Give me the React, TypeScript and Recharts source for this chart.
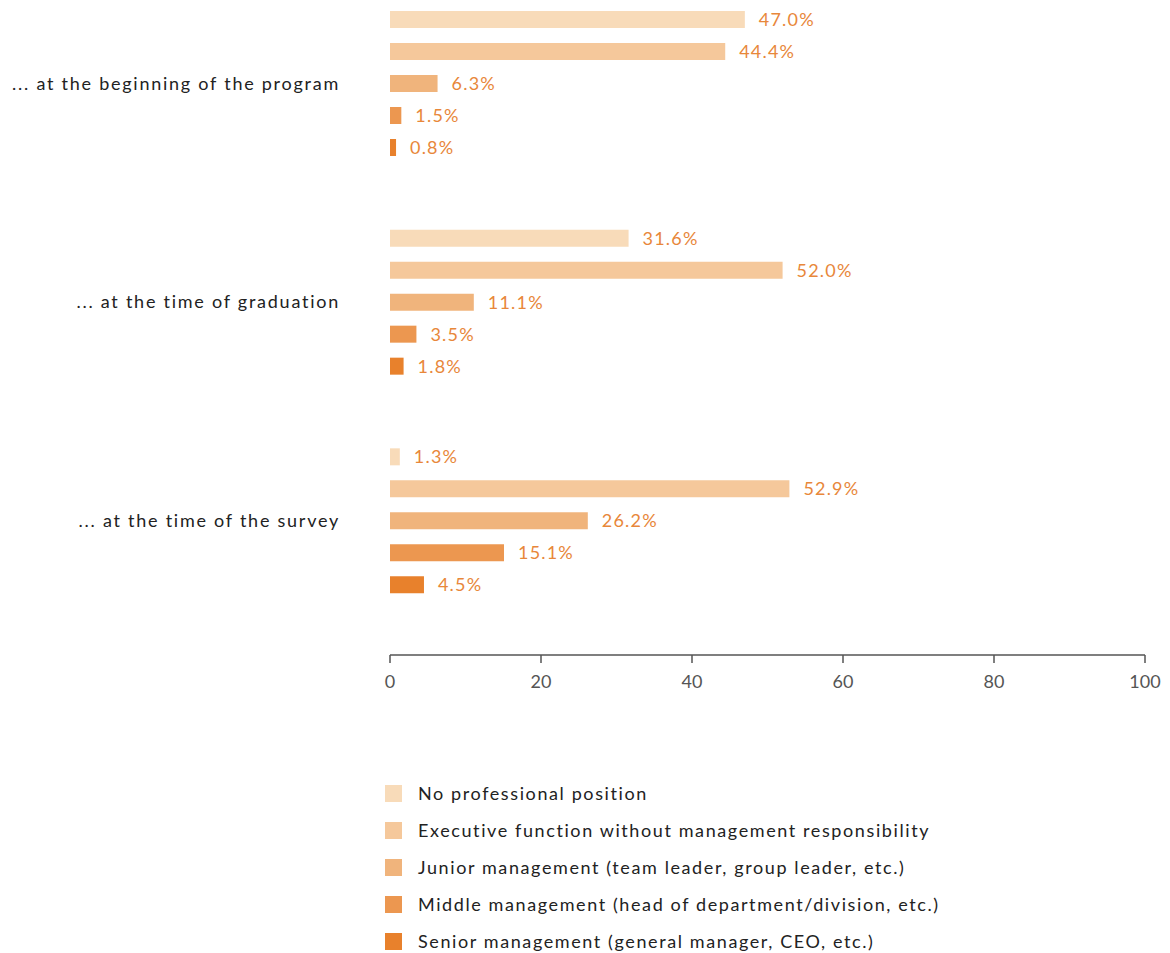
import React from "react";
import { BarChart, Bar, XAxis, YAxis, LabelList } from "recharts";

// Career position of graduates at three points in time (percent)
const stages = [
  "... at the beginning of the program",
  "... at the time of graduation",
  "... at the time of the survey",
];

const noPosition = [47.0, 31.6, 1.3];
const executive = [44.4, 52.0, 52.9];
const junior = [6.3, 11.1, 26.2];
const middle = [1.5, 3.5, 15.1];
const senior = [0.8, 1.8, 4.5];

const xTicks = [0, 20, 40, 60, 80, 100];

const seriesNames = [
  "No professional position",
  "Executive function without management responsibility",
  "Junior management (team leader, group leader, etc.)",
  "Middle management (head of department/division, etc.)",
  "Senior management (general manager, CEO, etc.)",
];

const seriesKeys = ["noPosition", "executive", "junior", "middle", "senior"];
const seriesValues = [noPosition, executive, junior, middle, senior];
const colors = ["#f8dbb9", "#f5c89b", "#f0b47c", "#ec9750", "#e8812c"];

const FONT = "Lato, 'Open Sans', sans-serif";

const data = stages.map((stage, i) => {
  const row: any = { stage };
  seriesKeys.forEach((key, k) => {
    row[key] = seriesValues[k][i];
  });
  return row;
});

const Legend = () => (
  <div style={{ position: "absolute", left: 385, top: 785, fontFamily: FONT }}>
    {seriesNames.map((name, i) => (
      <div
        key={name}
        style={{ display: "flex", alignItems: "center", height: 17, marginBottom: 20 }}
      >
        <span style={{ width: 17, height: 17, background: colors[i], display: "inline-block" }} />
        <span
          style={{
            marginLeft: 16,
            fontSize: 18,
            letterSpacing: 1.6,
            color: "#222",
            lineHeight: "17px",
            whiteSpace: "nowrap",
          }}
        >
          {name}
        </span>
      </div>
    ))}
  </div>
);

export default function App() {
  return (
    <div style={{ position: "absolute", left: 0, top: 0, width: 1170, height: 953 }}>
      <div style={{ position: "absolute", left: 0, top: -26 }}>
        <BarChart
          width={1170}
          height={721}
          data={data}
          layout="vertical"
          margin={{ top: 0, right: 25, bottom: 10, left: 0 }}
          barSize={17}
          barGap={15}
        >
          <XAxis
            type="number"
            domain={[0, 100]}
            ticks={xTicks}
            tickSize={8}
            tickMargin={12}
            stroke="#555"
            strokeWidth={1.5}
            tick={{ fill: "#555", fontSize: 18, fontFamily: FONT }}
          />
          <YAxis
            type="category"
            dataKey="stage"
            width={390}
            axisLine={false}
            tickLine={false}
            tickSize={0}
            tickMargin={50}
            padding={{ top: 0, bottom: 25 }}
            tick={{ fill: "#222", fontSize: 18, fontFamily: FONT, letterSpacing: 1.75 }}
          />
          {seriesKeys.map((key, i) => (
            <Bar key={key} dataKey={key} name={seriesNames[i]} fill={colors[i]} isAnimationActive={false}>
              <LabelList
                dataKey={key}
                position="right"
                offset={14}
                formatter={(v: any) => `${Number(v).toFixed(1)}%`}
                style={{ fill: "#e8873a", fontSize: 18, fontFamily: FONT, letterSpacing: 1.2 }}
              />
            </Bar>
          ))}
        </BarChart>
      </div>
      <Legend />
    </div>
  );
}
